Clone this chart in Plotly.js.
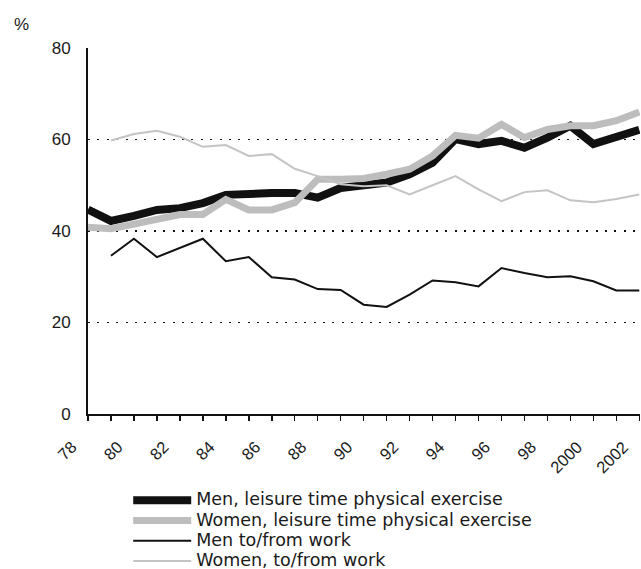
<!DOCTYPE html>
<html>
<head>
<meta charset="utf-8">
<script src="https://cdn.plot.ly/plotly-3.0.1.min.js"></script>
<style>html,body{margin:0;padding:0;background:#fff;}#chart{width:641px;height:569px;}</style>
</head>
<body>
<div id="chart"></div>
<script>
var years = [1978,1979,1980,1981,1982,1983,1984,1985,1986,1987,1988,1989,1990,1991,1992,1993,1994,1995,1996,1997,1998,1999,2000,2001,2002];
var menLeisure   = [44.7,42.2,43.3,44.6,45.0,46.1,47.9,48.3,48.3,48.3,47.3,49.4,50.1,50.6,52.4,54.9,60.1,59.0,59.7,58.2,60.4,63.0,59.0,60.4,62.1];
var womenLeisure = [40.8,40.5,41.5,42.7,43.6,43.6,46.9,44.6,44.6,46.2,51.3,51.3,51.5,52.4,53.5,56.4,60.9,60.3,63.3,60.4,62.2,63.0,63.0,64.1,66.0];
var menWork      = [null,34.6,38.3,34.3,36.3,38.3,33.4,34.3,29.9,29.4,27.3,27.1,23.9,23.4,26.1,29.2,28.8,27.9,31.9,30.8,29.9,30.1,29.0,27.0,27.0];
var womenWork    = [null,59.8,61.2,61.9,60.6,58.4,58.8,56.4,56.8,53.6,52.0,50.2,49.8,50.0,48.0,50.0,52.0,49.1,46.5,48.5,48.9,46.7,46.3,47.0,48.0];
var seriesNames = ["Men, leisure time physical exercise","Women, leisure time physical exercise","Men to/from work","Women, to/from work"];
var tickYears = [1978,1980,1982,1984,1986,1988,1990,1992,1994,1996,1998,2000,2002];
var tickLabels = ["78","80","82","84","86","88","90","92","94","96","98","2000","2002"];

var FONT = "Liberation Sans, Arial, sans-serif";
var LEGFONT = "DejaVu Sans, Liberation Sans, sans-serif";
function nm(s){ return '<span style="font-size:17.5px">' + s + '</span>'; }

var traces = [
  {x: years, y: menLeisure,   name: nm(seriesNames[0]), line: {color: "#111111", width: 8}},
  {x: years, y: womenLeisure, name: nm(seriesNames[1]), line: {color: "#bdbdbd", width: 7}},
  {x: years, y: menWork,      name: nm(seriesNames[2]), line: {color: "#111111", width: 2}},
  {x: years, y: womenWork,    name: nm(seriesNames[3]), line: {color: "#c4c4c4", width: 2}}
].map(function(t){ t.type = "scatter"; t.mode = "lines"; t.hoverinfo = "skip"; return t; });

var layout = {
  width: 641, height: 569,
  margin: {l: 88, r: 1, t: 48, b: 155, autoexpand: false},
  paper_bgcolor: "#ffffff", plot_bgcolor: "#ffffff",
  font: {family: FONT, color: "#1a1a1a", size: 17},
  showlegend: true,
  legend: {
    xref: "container", yref: "container",
    x: 0.2, y: 0.1475, xanchor: "left", yanchor: "top",
    font: {size: 13.3, family: LEGFONT, color: "#1a1a1a"},
    itemwidth: 58, bgcolor: "rgba(0,0,0,0)", borderwidth: 0,
    tracegroupgap: 0
  },
  xaxis: {
    range: [1978, 2002.03], showgrid: false, zeroline: false,
    showline: true, linecolor: "#111111", linewidth: 2,
    tickmode: "array", tickvals: tickYears, ticktext: tickLabels,
    ticks: "outside", ticklen: 5, tickwidth: 1.5, tickcolor: "#111111",
    minor: {dtick: 1, tick0: 1978, ticks: "outside", ticklen: 5, tickwidth: 1.5, tickcolor: "#111111", showgrid: false},
    tickangle: -45, ticklabelshift: -16, ticklabelstandoff: 10,
    tickfont: {size: 16.5, family: FONT, color: "#1a1a1a"},
    fixedrange: true
  },
  yaxis: {
    range: [0, 80], tickvals: [0,20,40,60,80],
    showgrid: true, gridcolor: "#111111", gridwidth: 1.6, griddash: "2px,7.4px",
    zeroline: false, showline: true, linecolor: "#111111", linewidth: 2,
    ticks: "", ticklabelstandoff: 12,
    tickfont: {size: 17, family: FONT, color: "#1a1a1a"},
    fixedrange: true
  },
  annotations: [
    {xref: "paper", yref: "paper", x: -0.12, y: 1.065, xanchor: "center", yanchor: "middle",
     text: "%", showarrow: false, font: {size: 17, family: FONT, color: "#1a1a1a"}}
  ]
};

Plotly.newPlot("chart", traces, layout, {staticPlot: true, displayModeBar: false});
</script>
</body>
</html>
